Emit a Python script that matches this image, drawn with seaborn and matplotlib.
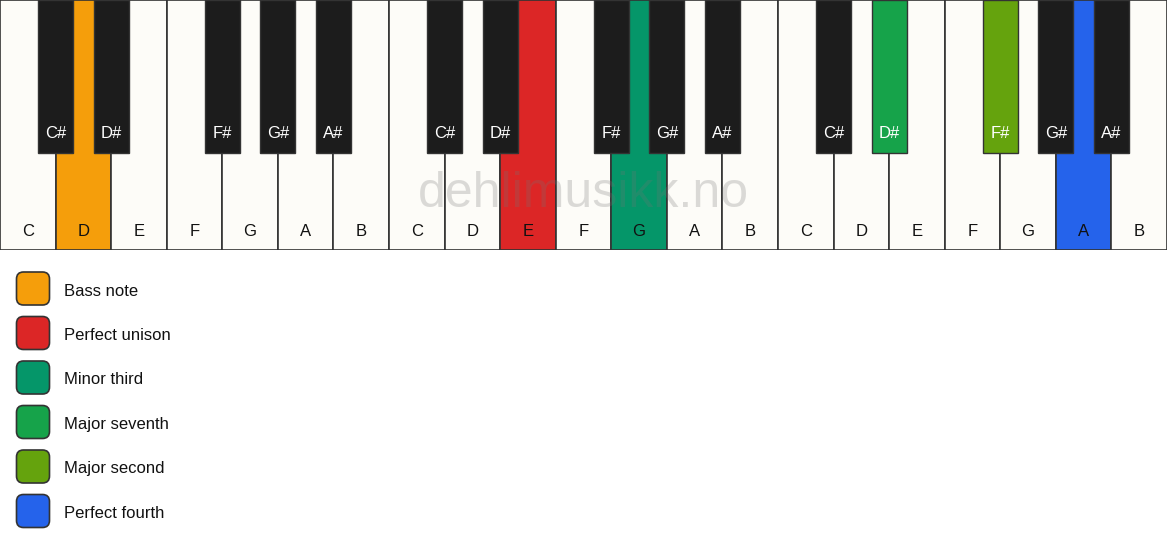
import matplotlib
matplotlib.use("Agg")
import matplotlib.pyplot as plt
from matplotlib.patches import FancyBboxPatch
import seaborn as sns

# Data
white_keys = ["C", "D", "E", "F", "G", "A", "B"] * 3
black_keys = ["C#", "D#", "F#", "G#", "A#"] * 3
black_after = ["C", "D", "F", "G", "A"]  # black key sits right of these whites

legend_names = ["Bass note", "Perfect unison", "Minor third",
                "Major seventh", "Major second", "Perfect fourth"]
legend_colors = ["#F59E0B", "#DC2626", "#059669", "#16A34A", "#65A30D", "#2563EB"]

# which key (index into white_keys / black_keys) gets which legend entry
white_highlight = {1: 0, 9: 1, 11: 2, 19: 5}
black_highlight = {11: 3, 12: 4}

WHITE = "#FDFCF8"
BLACK = "#1C1C1C"
EDGE = "#333333"

sns.set_theme(style="white")
plt.rcParams["font.family"] = ["Liberation Sans", "DejaVu Sans"]

fig = plt.figure(figsize=(11.67, 5.5), dpi=100)
ax = fig.add_axes([0, 300 / 550, 1, 250 / 550])

white_colors = [legend_colors[white_highlight[i]] if i in white_highlight else WHITE
                for i in range(len(white_keys))]
sns.barplot(x=list(range(len(white_keys))), y=[1] * len(white_keys),
            hue=list(range(len(white_keys))), palette=white_colors,
            width=1.0, legend=False, edgecolor=EDGE, linewidth=1.2,
            saturation=1, ax=ax)

for i, name in enumerate(white_keys):
    ax.text(i, 0.075, name, ha="center", va="center", fontsize=12, color="#111111")

# black keys
pos = [i + 0.5 for i, n in enumerate(white_keys) if n in black_after]
for k, (x, name) in enumerate(zip(pos, black_keys)):
    col = legend_colors[black_highlight[k]] if k in black_highlight else BLACK
    ax.bar(x, 0.612, bottom=1 - 0.612, width=0.63, color=col,
           edgecolor=EDGE, linewidth=1.0, zorder=3)
    ax.text(x, 0.465, name, ha="center", va="center", fontsize=12,
            color="white", zorder=4)

ax.text(10, 0.225, "dehlimusikk.no", ha="center", va="center", fontsize=36,
        color=(0.45, 0.45, 0.45, 0.25), zorder=5)

ax.set_xlim(-0.5, len(white_keys) - 0.5)
ax.set_ylim(0, 1)
ax.axis("off")

# legend
lax = fig.add_axes([0, 0, 1, 1], zorder=-1)
lax.set_xlim(0, 1167)
lax.set_ylim(550, 0)
lax.axis("off")
for i, (name, col) in enumerate(zip(legend_names, legend_colors)):
    y = 272 + 44.5 * i
    lax.add_patch(FancyBboxPatch((16.5, y), 33, 33,
                                 boxstyle="round,pad=0,rounding_size=7",
                                 facecolor=col, edgecolor=EDGE, linewidth=1.2))
    lax.text(64, y + 19, name, ha="left", va="center", fontsize=12, color="#111111")

fig.savefig("out.png", dpi=100, facecolor="white")
